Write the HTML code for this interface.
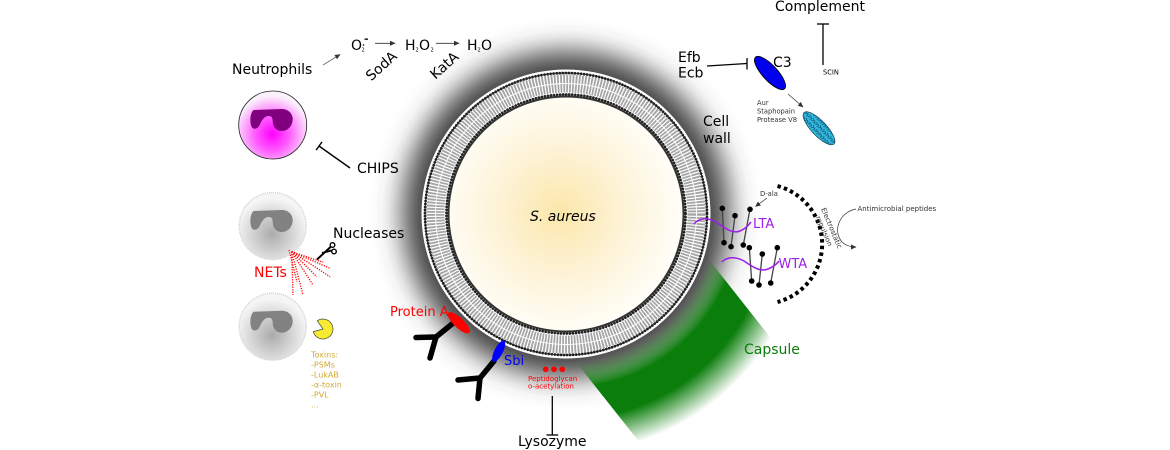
<!DOCTYPE html>
<html><head><meta charset="utf-8"><style>html,body{margin:0;padding:0;background:#fff;width:1170px;height:450px;overflow:hidden}svg{display:block}</style></head>
<body>
<svg width="1170" height="450" viewBox="0 0 1170 450" xmlns="http://www.w3.org/2000/svg" style="font-family:'DejaVu Sans','Liberation Sans',sans-serif">
<defs>
  <filter id="blur" x="-50%" y="-50%" width="200%" height="200%"><feGaussianBlur stdDeviation="14"/></filter>
  <radialGradient id="gr" gradientUnits="userSpaceOnUse" cx="566" cy="214" r="285">
    <stop offset="0.52" stop-color="#0a7d0a" stop-opacity="0"/>
    <stop offset="0.61" stop-color="#0a7d0a" stop-opacity="1"/>
    <stop offset="0.72" stop-color="#0a7d0a" stop-opacity="1"/>
    <stop offset="0.84" stop-color="#0a7d0a" stop-opacity="0"/>
  </radialGradient>
  <clipPath id="strip"><polygon points="631,161 879,475 749,581 501,267"/></clipPath>
  <radialGradient id="yel" gradientUnits="userSpaceOnUse" cx="560" cy="212" r="118">
    <stop offset="0" stop-color="#fbe6aa"/>
    <stop offset="0.5" stop-color="#fdf2d4"/>
    <stop offset="1" stop-color="#fffdf6"/>
  </radialGradient>
  <radialGradient id="pink" gradientUnits="userSpaceOnUse" cx="272" cy="134" r="38">
    <stop offset="0" stop-color="#ff00ff"/>
    <stop offset="0.45" stop-color="#ff5cff"/>
    <stop offset="1" stop-color="#fbf0fb"/>
  </radialGradient>
  <radialGradient id="gray2" gradientUnits="userSpaceOnUse" cx="272" cy="234" r="36">
    <stop offset="0" stop-color="#ababab"/>
    <stop offset="1" stop-color="#f5f5f5"/>
  </radialGradient>
  <radialGradient id="gray3" gradientUnits="userSpaceOnUse" cx="272" cy="335" r="36">
    <stop offset="0" stop-color="#ababab"/>
    <stop offset="1" stop-color="#f5f5f5"/>
  </radialGradient>
  <pattern id="tex" width="5" height="5" patternUnits="userSpaceOnUse">
    <rect width="5" height="5" fill="#33bade"/>
    <path d="M0,1 L2,2 L1,4 M3,0 L4.5,2 L3,3.5" stroke="#0b5576" stroke-width="0.8" fill="none"/>
  </pattern>
  <marker id="ah" markerWidth="6" markerHeight="6" refX="5" refY="3" orient="auto" markerUnits="userSpaceOnUse">
    <path d="M0,0.5 L5.5,3 L0,5.5 Z" fill="#333"/>
  </marker>
  <path id="nuc" d="M-19,-15 L9,-16 C16,-16 20,-11 20,-6 C20,1 15,6 9,6 C3,6 0,1 0,-4 C0,-7 -1,-9 -4,-9 C-8,-9 -11,-5 -13,0 C-15,4 -19,5 -21,2 C-23,-2 -23,-12 -19,-15 Z"/>
</defs>

<rect width="1170" height="450" fill="#fff"/>

<!-- halo -->
<circle cx="566" cy="214" r="163" fill="#404040" filter="url(#blur)"/>
<!-- capsule -->
<circle cx="566" cy="214" r="285" fill="url(#gr)" clip-path="url(#strip)"/>

<!-- bacterium -->
<circle cx="566" cy="214" r="144.5" fill="#fff"/>
<circle cx="566" cy="214" r="130.5" fill="none" stroke="#a4a4a4" stroke-width="18" stroke-dasharray="1.8 1.2"/>
<circle cx="566" cy="214" r="130.5" fill="none" stroke="#fff" stroke-width="0.9"/>
<circle cx="566" cy="214" r="141" fill="none" stroke="#555" stroke-width="1"/>
<circle cx="566" cy="214" r="141" fill="none" stroke="#222" stroke-width="2.8" stroke-dasharray="0.01 3.05" stroke-linecap="round"/>
<circle cx="566" cy="214" r="119.5" fill="none" stroke="#222" stroke-width="2.8" stroke-dasharray="0.01 3.05" stroke-linecap="round"/>
<circle cx="566" cy="214" r="117.5" fill="url(#yel)" stroke="#333" stroke-width="2"/>
<text x="530" y="221" font-size="14" font-style="italic">S. aureus</text>

<!-- Neutrophils / ROS -->
<text x="232" y="74" font-size="14">Neutrophils</text>
<line x1="323" y1="65" x2="340" y2="54.5" stroke="#666" stroke-width="0.8" marker-end="url(#ah)"/>
<text x="351" y="50" font-size="14">O</text>
<text x="361.5" y="51.5" font-size="5">2</text>
<circle cx="363.5" cy="45" r="0.8" fill="#000"/>
<rect x="364.5" y="38.5" width="3.5" height="1.3" fill="#000"/>
<line x1="375" y1="43.3" x2="395" y2="43.3" stroke="#333" stroke-width="0.8" marker-end="url(#ah)"/>
<text x="405" y="50" font-size="14">H</text>
<text x="415.5" y="51.5" font-size="5">2</text>
<text x="419" y="50" font-size="14">O</text>
<text x="430.5" y="51.5" font-size="5">2</text>
<line x1="436" y1="43.3" x2="459" y2="43.3" stroke="#333" stroke-width="0.8" marker-end="url(#ah)"/>
<text x="467" y="50" font-size="14">H</text>
<text x="477.5" y="51.5" font-size="5">2</text>
<text x="481" y="50" font-size="14">O</text>
<text transform="translate(384.5,69.5) rotate(-42)" text-anchor="middle" font-size="14">SodA</text>
<text transform="translate(447.5,69) rotate(-42)" text-anchor="middle" font-size="14">KatA</text>

<!-- cell 1 -->
<circle cx="272.7" cy="125" r="34" fill="url(#pink)" stroke="#222" stroke-width="0.8"/>
<use href="#nuc" transform="translate(272.7,125)" fill="#800080"/>
<line x1="350" y1="168" x2="319" y2="146" stroke="#000" stroke-width="1.4"/>
<line x1="322" y1="141.9" x2="316.1" y2="150.1" stroke="#000" stroke-width="1.4"/>
<text x="357" y="173" font-size="14">CHIPS</text>

<!-- cell 2 -->
<circle cx="272.7" cy="226" r="33.5" fill="url(#gray2)" stroke="#d2d2d2" stroke-width="1.5" stroke-dasharray="1 1"/>
<use href="#nuc" transform="translate(272.7,226)" fill="#828282"/>
<text x="333" y="238" font-size="14">Nucleases</text>
<g stroke="#f00" stroke-width="1.3" stroke-dasharray="1.2 1.3" fill="none">
  <path d="M291.7,251.7 L323.3,262.3"/>
  <path d="M291.7,251.7 L330,268.3"/>
  <path d="M291.7,251.7 L330,276.7"/>
  <path d="M291.7,251.7 L316.7,276.7"/>
  <path d="M291.7,251.7 L313,285"/>
  <path d="M291.7,251.7 L303,295"/>
  <path d="M291.7,251.7 L293,295"/>
  <path d="M289,250 L297,282"/>
</g>
<text x="254" y="277" font-size="14" fill="#f00">NETs</text>
<!-- scissors -->
<g fill="none" stroke="#000">
  <circle cx="332.5" cy="245" r="2.3" stroke-width="1.4"/>
  <circle cx="334" cy="251.5" r="2.3" stroke-width="1.4"/>
  <path d="M330.5,247 L317,259.5" stroke-width="2"/>
  <path d="M331.5,250.5 L322,253" stroke-width="1.8"/>
</g>

<!-- cell 3 -->
<circle cx="272.7" cy="326.7" r="33.5" fill="url(#gray3)" stroke="#d2d2d2" stroke-width="1.5" stroke-dasharray="1 1"/>
<use href="#nuc" transform="translate(272.7,326.7)" fill="#828282"/>
<path d="M323,329 L317.3,320.8 A10,10 0 1 1 313.3,331.6 Z" fill="#f7ea30" stroke="#444" stroke-width="0.7"/>
<g font-size="8" fill="#d1a831">
  <text x="311" y="357.5">Toxins:</text>
  <text x="311" y="367.5">-PSMs</text>
  <text x="311" y="377.5">-LukAB</text>
  <text x="311" y="387.5">-α-toxin</text>
  <text x="311" y="397.5">-PVL</text>
  <text x="311" y="407.5">...</text>
</g>

<!-- antibodies -->
<g stroke="#000" stroke-width="5.5" stroke-linecap="round" stroke-linejoin="round" fill="none">
  <path d="M452,324 L436,337"/>
  <path d="M416,337.5 L436,337 L430,358"/>
  <path d="M494,361 L480,378"/>
  <path d="M458,380 L480,378 L478,398.5"/>
</g>
<ellipse cx="458.8" cy="322.7" rx="14.5" ry="5" transform="rotate(43.6 458.8 322.7)" fill="#f00"/>
<ellipse cx="498.7" cy="351.2" rx="11.8" ry="4.2" transform="rotate(-63 498.7 351.2)" fill="#00f"/>
<text x="390" y="316" font-size="13" fill="#f00">Protein A</text>
<text x="504" y="365" font-size="13" fill="#00f">Sbi</text>

<!-- peptidoglycan -->
<circle cx="545.7" cy="369.3" r="2.8" fill="#f00"/>
<circle cx="554" cy="369.3" r="2.8" fill="#f00"/>
<circle cx="562.3" cy="369.3" r="2.8" fill="#f00"/>
<text x="528" y="381" font-size="7" fill="#f00">Peptidoglycan</text>
<text x="528" y="388.5" font-size="7" fill="#f00">o-acetylation</text>
<line x1="552.3" y1="396" x2="552.3" y2="435" stroke="#000" stroke-width="1.3"/>
<line x1="546.5" y1="435" x2="558.2" y2="435" stroke="#000" stroke-width="1.3"/>
<text x="518" y="446" font-size="14">Lysozyme</text>

<!-- capsule label -->
<text x="744" y="354" font-size="14" fill="#0a7d0a">Capsule</text>

<!-- complement -->
<text x="775" y="11" font-size="14">Complement</text>
<line x1="823" y1="65" x2="823" y2="24" stroke="#000" stroke-width="1.3"/>
<line x1="817" y1="24" x2="829" y2="24" stroke="#000" stroke-width="1.3"/>
<text x="823" y="74.5" font-size="6.7">SCIN</text>
<text x="678" y="62" font-size="14">Efb</text>
<text x="678" y="77.5" font-size="14">Ecb</text>
<line x1="707" y1="66" x2="747" y2="63.5" stroke="#000" stroke-width="1.3"/>
<line x1="747" y1="58" x2="747" y2="69.5" stroke="#000" stroke-width="1.3"/>
<ellipse cx="770" cy="73" rx="21.5" ry="7.5" transform="rotate(47.4 770 73)" fill="#0000ee" stroke="#000" stroke-width="0.8"/>
<text x="773" y="67" font-size="14">C3</text>
<line x1="788" y1="94" x2="803" y2="107" stroke="#333" stroke-width="0.7" marker-end="url(#ah)"/>
<g font-size="6.7" fill="#333">
  <text x="757" y="105">Aur</text>
  <text x="757" y="113.5">Staphopain</text>
  <text x="757" y="122">Protease V8</text>
</g>
<ellipse cx="819" cy="128.3" rx="21.7" ry="7.5" transform="rotate(46.3 819 128.3)" fill="url(#tex)" stroke="#0a3d55" stroke-width="0.6"/>
<text x="703" y="126" font-size="14">Cell</text>
<text x="703" y="143" font-size="14">wall</text>

<!-- LTA / WTA -->
<text x="760" y="196" font-size="6.8" fill="#333">D-ala</text>
<line x1="767" y1="198" x2="755.5" y2="206.5" stroke="#333" stroke-width="0.7" marker-end="url(#ah)"/>
<g stroke="#444" stroke-width="1.3">
  <line x1="722.3" y1="208.3" x2="724" y2="242.7"/>
  <line x1="735" y1="215.7" x2="731" y2="246.7"/>
  <line x1="750" y1="209.3" x2="743.3" y2="245"/>
  <line x1="749.3" y1="247.7" x2="751.7" y2="281"/>
  <line x1="762.3" y1="254" x2="759" y2="285"/>
  <line x1="777.3" y1="247.7" x2="770.7" y2="283"/>
</g>
<g fill="#000">
  <circle cx="722.3" cy="208.3" r="2.8"/><circle cx="735" cy="215.7" r="2.8"/><circle cx="750" cy="209.3" r="2.8"/>
  <circle cx="724" cy="242.7" r="2.8"/><circle cx="731" cy="246.7" r="2.8"/><circle cx="743.3" cy="245" r="2.8"/>
  <circle cx="749.3" cy="247.7" r="2.8"/><circle cx="762.3" cy="254" r="2.8"/><circle cx="777.3" cy="247.7" r="2.8"/>
  <circle cx="751.7" cy="281" r="2.8"/><circle cx="759" cy="285" r="2.8"/><circle cx="770.7" cy="283" r="2.8"/>
</g>
<g stroke="#9b1fe8" stroke-width="1.5" fill="none">
  <path d="M694,224 C699,218 707,217 716,222 C726,229 733,234 740,231 C745,229 748,226 751,222"/>
  <path d="M721.7,262 C727,257 735,256 744,261 C754,268 761,272 768,269 C773,267 776,265 779,261"/>
</g>
<text x="753" y="228" font-size="13" fill="#9b1fe8">LTA</text>
<text x="778.5" y="268" font-size="13" fill="#9b1fe8">WTA</text>
<path d="M777.5,186 A60,60 0 0 1 777.5,302" fill="none" stroke="#000" stroke-width="4" stroke-dasharray="3.5 3.2"/>
<text transform="translate(829.5,229) rotate(67)" text-anchor="middle" font-size="7" fill="#333">Electrostatic</text>
<text transform="translate(822,232) rotate(67)" text-anchor="middle" font-size="7" fill="#333">repulsion</text>
<text x="857.5" y="211" font-size="7" fill="#333">Antimicrobial peptides</text>
<path d="M856,209 C840,212 832,230 842,242 C846,246 851,247 856,247" fill="none" stroke="#333" stroke-width="0.7" marker-end="url(#ah)"/>
</svg>
</body></html>
